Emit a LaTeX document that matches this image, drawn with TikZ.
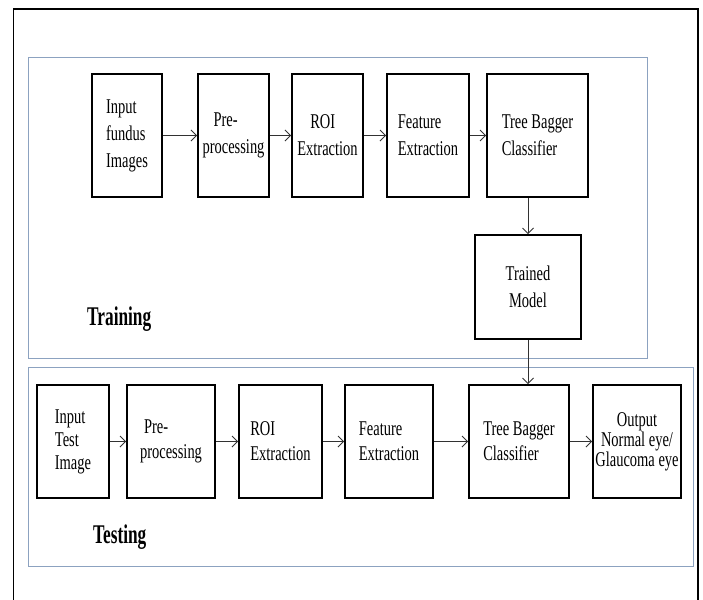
\documentclass[tikz,border=0pt]{standalone}
\usepackage{fontspec}
\setmainfont{Liberation Serif}[FakeStretch=0.69]
\newfontfamily\lblfont{Liberation Serif}[FakeStretch=0.64]
\usetikzlibrary{arrows.meta}
\definecolor{grpblue}{RGB}{140,162,192}
\definecolor{arrgray}{RGB}{50,50,50}
\begin{document}
\begin{tikzpicture}[x=1pt,y=-1pt,
  box/.style={draw=black, line width=1.6pt, inner sep=0pt, align=left,
    font=\fontsize{21}{27}\selectfont},
  trainbox/.style={box, minimum height=123pt},
  testbox/.style={box, minimum height=113pt, font=\fontsize{21}{25}\selectfont},
  grp/.style={draw=grpblue, line width=0.9pt},
  arr/.style={draw=arrgray, line width=1pt, -{Straight Barb[length=5.5pt,width=11pt]}},
  lbl/.style={font=\lblfont\fontsize{27}{30}\selectfont\bfseries, inner sep=0pt, anchor=base west}
]
\useasboundingbox (0,0) rectangle (703,599);
% outer frame
\draw[line width=1.8pt] (13.5,610) -- (13.5,9) -- (698,9) -- (698,610);
% group frames
\draw[grp] (28,57) rectangle (647,358);
\draw[grp] (28,367) rectangle (693,566);

% training row
\node[trainbox, minimum width=70pt] (in1) at (127,135.5) {Input\\fundus\\Images};
\node[trainbox, minimum width=71pt] (pre1) at (233.5,135.5) {\hspace*{11pt}Pre-\\processing};
\node[trainbox, minimum width=71pt] (roi1) at (327.5,135.5) {\hspace*{13pt}ROI\\Extraction};
\node[trainbox, minimum width=82pt] (fe1) at (428,135.5) {Feature\\Extraction};
\node[trainbox, minimum width=101pt] (tb1) at (537.5,135.5) {Tree Bagger\\Classifier};
\node[box, minimum width=106pt, minimum height=104pt, align=center] (tm) at (528,287) {Trained\\Model};
\node[lbl] (trn) at (87,325) {Training};

% testing row
\node[testbox, minimum width=72pt, font=\fontsize{21}{23}\selectfont] (in2) at (73,441.5) {Input\\Test\\Image};
\node[testbox, minimum width=88pt] (pre2) at (171,441.5) {\hspace*{4pt}Pre-\\processing};
\node[testbox, minimum width=83pt] (roi2) at (280.5,441.5) {ROI\\Extraction};
\node[testbox, minimum width=88pt] (fe2) at (389,441.5) {Feature\\Extraction};
\node[testbox, minimum width=100pt] (tb2) at (519,441.5) {Tree Bagger\\Classifier};
\node[testbox, minimum width=88pt, align=center, font=\fontsize{21}{20}\selectfont] (out) at (637,441.5) {Output\\Normal eye/\\Glaucoma eye};
\node[lbl] (tst) at (93,543) {Testing};

% arrows training
\draw[arr] (in1) -- (pre1);
\draw[arr] (pre1) -- (roi1);
\draw[arr] (roi1) -- (fe1);
\draw[arr] (fe1) -- (tb1);
\draw[arr] (tb1.south -| tm.north) -- (tm.north);
\draw[arr] (tm.south) -- (tm.south |- tb2.north);
% arrows testing
\draw[arr] (in2) -- (pre2);
\draw[arr] (pre2) -- (roi2);
\draw[arr] (roi2) -- (fe2);
\draw[arr] (fe2) -- (tb2);
\draw[arr] (tb2) -- (out);
\end{tikzpicture}
\end{document}
